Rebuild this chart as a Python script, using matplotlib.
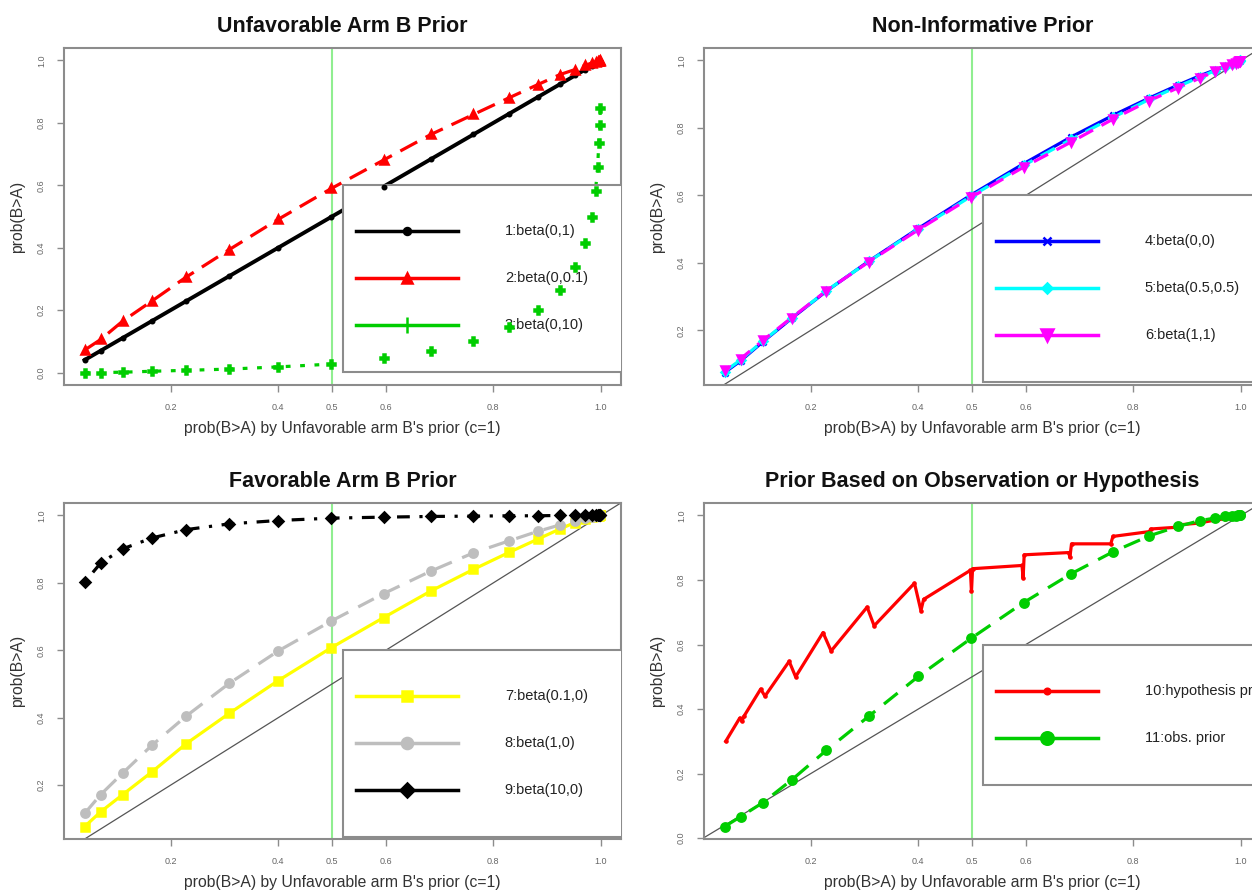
import numpy as np
import matplotlib
matplotlib.use("Agg")
import matplotlib.pyplot as plt
from matplotlib.lines import Line2D
from matplotlib.patches import Rectangle

plt.rcParams['font.family'] = ['Liberation Sans', 'DejaVu Sans']

# reference probability prob(B>A) under the unfavorable prior (c=1)
p_ref = [0.040, 0.070, 0.111, 0.165, 0.229, 0.309, 0.400, 0.499, 0.596, 0.684, 0.763,
         0.830, 0.883, 0.924, 0.952, 0.970, 0.983, 0.990, 0.994, 0.996, 0.998, 0.999]

# panel 1: unfavorable arm B priors
beta_0_1 = [0.040, 0.070, 0.111, 0.165, 0.229, 0.309, 0.400, 0.499, 0.596, 0.684, 0.763,
            0.830, 0.883, 0.924, 0.952, 0.970, 0.983, 0.990, 0.994, 0.996, 0.998, 0.999]
beta_0_01 = [0.072, 0.106, 0.165, 0.229, 0.306, 0.394, 0.491, 0.590, 0.681, 0.763, 0.827,
             0.881, 0.923, 0.955, 0.971, 0.984, 0.992, 0.995, 0.997, 0.998, 0.999, 1.000]
beta_0_10 = [0.000, 0.000, 0.001, 0.004, 0.007, 0.011, 0.018, 0.027, 0.045, 0.069, 0.101,
             0.146, 0.199, 0.263, 0.337, 0.415, 0.498, 0.583, 0.660, 0.734, 0.793, 0.849]

# panel 2: non-informative priors
beta_0_0 = [0.075, 0.110, 0.166, 0.236, 0.316, 0.406, 0.502, 0.602, 0.694, 0.773, 0.838,
            0.889, 0.927, 0.955, 0.972, 0.983, 0.991, 0.995, 0.997, 0.998, 0.999, 1.000]
beta_h_h = [0.078, 0.113, 0.168, 0.237, 0.317, 0.405, 0.500, 0.598, 0.689, 0.766, 0.832,
            0.885, 0.923, 0.951, 0.970, 0.982, 0.990, 0.994, 0.996, 0.998, 0.999, 1.000]
beta_1_1 = [0.081, 0.116, 0.170, 0.238, 0.317, 0.404, 0.498, 0.595, 0.684, 0.758, 0.827,
            0.881, 0.919, 0.948, 0.968, 0.982, 0.990, 0.994, 0.996, 0.997, 0.998, 0.999]

# panel 3: favorable arm B priors
beta_01_0 = [0.077, 0.121, 0.172, 0.239, 0.323, 0.413, 0.510, 0.608, 0.697, 0.776, 0.840,
             0.891, 0.930, 0.960, 0.979, 0.990, 0.995, 0.997, 0.998, 0.999, 1.000, 1.000]
beta_1_0 = [0.116, 0.172, 0.236, 0.318, 0.405, 0.502, 0.598, 0.687, 0.768, 0.835, 0.889,
            0.925, 0.953, 0.972, 0.985, 0.992, 0.996, 0.998, 0.999, 1.000, 1.000, 1.000]
beta_10_0 = [0.802, 0.859, 0.901, 0.933, 0.958, 0.975, 0.985, 0.992, 0.995, 0.997, 0.998,
             0.999, 0.999, 1.000, 1.000, 1.000, 1.000, 1.000, 1.000, 1.000, 1.000, 1.000]

# panel 4: hypothesis prior (zig-zag) and observation prior
hyp_x = [0.042, 0.068, 0.072, 0.076, 0.107, 0.115, 0.160, 0.172, 0.223, 0.238, 0.305, 0.318,
         0.393, 0.405, 0.410, 0.497, 0.499, 0.501, 0.593, 0.595, 0.597, 0.680, 0.682, 0.685,
         0.758, 0.762, 0.830, 0.832, 0.877, 0.880, 0.920, 0.950, 0.971, 0.985, 0.996]
hyp_y = [0.300, 0.372, 0.362, 0.378, 0.462, 0.440, 0.548, 0.500, 0.637, 0.580, 0.716, 0.658,
         0.790, 0.705, 0.740, 0.830, 0.765, 0.835, 0.845, 0.805, 0.878, 0.885, 0.870, 0.912,
         0.912, 0.935, 0.950, 0.958, 0.963, 0.970, 0.976, 0.985, 0.990, 0.995, 0.999]
obs_prior = [0.036, 0.067, 0.110, 0.181, 0.272, 0.379, 0.501, 0.620, 0.730, 0.819, 0.888,
             0.937, 0.966, 0.984, 0.992, 0.997, 0.998, 0.999, 1.000, 1.000, 1.000, 1.000]

xticks = [0.2, 0.4, 0.5, 0.6, 0.8, 1.0]
yticks = [0.0, 0.2, 0.4, 0.6, 0.8, 1.0]
xlab = "prob(B>A) by Unfavorable arm B's prior (c=1)"
ylab = "prob(B>A)"

GREEN = '#00CD00'
FRAME = '#8c8c8c'


def r_lim(vals):
    lo, hi = min(vals), max(vals)
    pad = 0.04 * (hi - lo)
    return lo - pad, hi + pad


def setup(ax, title, xs, ys):
    ax.set_xlim(*r_lim(xs))
    ax.set_xticks(xticks)
    ax.set_xticklabels([f"{t:.1f}" for t in xticks])
    ax.set_yticks(yticks)
    ax.set_yticklabels([f"{t:.1f}" for t in yticks])
    ax.set_ylim(*r_lim(ys))
    ax.tick_params(direction='out', length=5, width=1, color=FRAME,
                   labelsize=6.5, labelcolor='#666666', pad=8)
    ax.tick_params(axis='y', labelrotation=90)
    for lab in ax.get_yticklabels():
        lab.set_va('center')
    for sp in ax.spines.values():
        sp.set_color(FRAME)
        sp.set_linewidth(1.5)
    ax.set_title(title, fontsize=15.5, fontweight='bold', color='#111111', pad=11.5)
    ax.set_xlabel(xlab, fontsize=11.3, color='#333333', va='center')
    ax.set_ylabel(ylab, fontsize=11.3, color='#333333', va='center')
    ax.xaxis.set_label_coords(0.5, -44 / ax.bbox.height)
    ax.yaxis.set_label_coords(-46 / ax.bbox.width, 0.5)
    ax.axvline(0.5, color='#90EE90', lw=1.5, zorder=1)


def key(ax, items, labels):
    # R style legend, top-left corner at (0.52, 0.6), clipped by the plot region
    aw, ah = ax.bbox.width, ax.bbox.height
    x0, y0 = ax.transLimits.transform((0.52, 0.6))
    h = (47 * len(labels) + 46) / ah
    ax.add_artist(Rectangle((x0, y0 - h), 2.0, h, transform=ax.transAxes,
                            facecolor='white', edgecolor=FRAME, lw=1.5, zorder=4))
    for k, ((color, marker, ms), label) in enumerate(zip(items, labels)):
        yk = y0 - (46 + 47 * k) / ah
        ax.add_artist(Line2D([x0 + 13 / aw, x0 + 115 / aw], [yk, yk], transform=ax.transAxes,
                             color=color, lw=2.5, zorder=5))
        ax.add_artist(Line2D([x0 + 64 / aw], [yk], transform=ax.transAxes, ls='none',
                             marker=marker, ms=ms, color=color, mew=1.8, zorder=5))
        ax.text(x0 + 162 / aw, yk, label, transform=ax.transAxes, va='center',
                fontsize=10.5, color='#222222', zorder=5, clip_on=True)


def series(ax, x, y, color, ls, marker, ms, lw=2.3):
    ax.plot(x, y, color=color, ls=ls, lw=lw, zorder=3)
    ax.plot(x, y, color=color, ls='none', marker=marker, ms=ms, mew=1.8, zorder=6)


fig = plt.figure(figsize=(12.52, 8.92), dpi=100)
W, H = 1252, 892
ax1 = fig.add_axes([64 / W, (H - 385) / H, 557 / W, 337 / H])
ax2 = fig.add_axes([704 / W, (H - 385) / H, 557 / W, 337 / H])
ax3 = fig.add_axes([64 / W, (H - 839) / H, 557 / W, 336 / H])
ax4 = fig.add_axes([704 / W, (H - 839) / H, 557 / W, 336 / H])

# panel 1
setup(ax1, "Unfavorable Arm B Prior", p_ref, beta_0_1 + beta_0_01 + beta_0_10)
series(ax1, p_ref, beta_0_1, 'black', '-', 'o', 2.5, lw=2.8)
series(ax1, p_ref, beta_0_01, 'red', (0, (6, 3)), '^', 6)
key(ax1, [('black', 'o', 5), ('red', '^', 7), (GREEN, '+', 11)],
    ["1:beta(0,1)", "2:beta(0,0.1)", "3:beta(0,10)"])
series(ax1, p_ref, beta_0_10, GREEN, (0, (1.5, 3)), 'P', 6)

# panel 2
setup(ax2, "Non-Informative Prior", p_ref, beta_0_0 + beta_h_h + beta_1_1)
ax2.axline((0, 0), (1, 1), color='#555555', lw=0.9, zorder=2)
series(ax2, p_ref, beta_0_0, 'blue', '-', 'x', 5)
series(ax2, p_ref, beta_h_h, 'cyan', (0, (5, 3)), 'D', 4)
series(ax2, p_ref, beta_1_1, 'magenta', (3, (5, 3)), 'v', 5.5)
key(ax2, [('blue', 'x', 6), ('cyan', 'D', 5), ('magenta', 'v', 8)],
    ["4:beta(0,0)", "5:beta(0.5,0.5)", "6:beta(1,1)"])

# panel 3
setup(ax3, "Favorable Arm B Prior", p_ref, beta_01_0 + beta_1_0 + beta_10_0)
ax3.axline((0, 0), (1, 1), color='#555555', lw=0.9, zorder=2)
series(ax3, p_ref, beta_01_0, '#FFFF00', '-', 's', 5.5)
series(ax3, p_ref, beta_1_0, '#BEBEBE', (0, (5.5, 3.5)), 'o', 6)
series(ax3, p_ref, beta_10_0, 'black', (0, (1, 3, 4, 3)), 'D', 5)
key(ax3, [('#FFFF00', 's', 7), ('#BEBEBE', 'o', 8), ('black', 'D', 7)],
    ["7:beta(0.1,0)", "8:beta(1,0)", "9:beta(10,0)"])

# panel 4
setup(ax4, "Prior Based on Observation or Hypothesis", p_ref, hyp_y + obs_prior)
ax4.axline((0, 0), (1, 1), color='#555555', lw=0.9, zorder=2)
series(ax4, hyp_x, hyp_y, 'red', '-', '.', 3)
series(ax4, p_ref, obs_prior, GREEN, (0, (5.5, 3.5)), 'o', 6)
key(ax4, [('red', '.', 8), (GREEN, 'o', 9)],
    ["10:hypothesis prior", "11:obs. prior"])

fig.savefig("out.png", dpi=100)
